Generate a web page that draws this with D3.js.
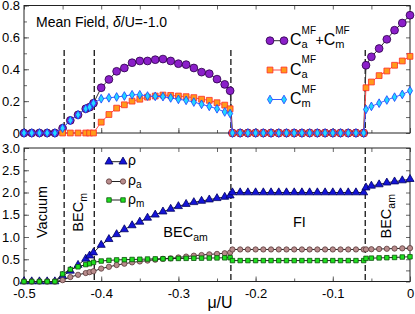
<!DOCTYPE html>
<html>
<head>
<meta charset="utf-8">
<script src="https://cdn.jsdelivr.net/npm/d3@7"></script>
<style>
body { margin: 0; background: #fff; }
svg { display: block; font-family: "Liberation Sans", Arial, sans-serif; }
</style>
</head>
<body>
<svg id="viz" width="415" height="314"></svg>
<script>
// mu/U grid (denser next to the transitions)
var mu = [-0.50, -0.49, -0.48, -0.47, -0.46, -0.45, -0.44, -0.43, -0.42, -0.415, -0.41,
    -0.40, -0.39, -0.38, -0.37, -0.36, -0.35, -0.34, -0.33, -0.32, -0.31, -0.30, -0.29, -0.28,
    -0.27, -0.26, -0.25, -0.24, -0.233,
    -0.23, -0.22, -0.21, -0.20, -0.19, -0.18, -0.17, -0.16, -0.15, -0.14, -0.13, -0.12, -0.11,
    -0.10, -0.09, -0.08, -0.07, -0.06,
    -0.057, -0.05, -0.04, -0.03, -0.02, -0.01, 0.0];

// top panel: condensate fractions
var cTot = [0, 0, 0, 0, 0, 0.03, 0.079, 0.114, 0.152, 0.162, 0.187,
    0.284, 0.336, 0.387, 0.408, 0.441, 0.452, 0.452, 0.46, 0.464, 0.452, 0.435, 0.429, 0.408,
    0.382, 0.372, 0.338, 0.305, 0.265,
    0, 0, 0, 0, 0, 0, 0, 0, 0, 0, 0, 0, 0, 0, 0, 0, 0, 0,
    0.425, 0.478, 0.53, 0.588, 0.645, 0.69, 0.739];
var cA = [null, null, null, null, null, 0, 0, 0, 0, 0, 0,
    0.068, 0.116, 0.156, 0.177, 0.2, 0.212, 0.225, 0.232, 0.238, 0.236, 0.232, 0.228, 0.222,
    0.212, 0.205, 0.19, 0.175, 0.152,
    0, 0, 0, 0, 0, 0, 0, 0, 0, 0, 0, 0, 0, 0, 0, 0, 0, 0,
    0.284, 0.32, 0.36, 0.389, 0.425, 0.452, 0.481];
var cM = [0, 0, 0, 0, 0, 0.03, 0.079, 0.114, 0.152, 0.162, 0.187,
    0.215, 0.221, 0.226, 0.232, 0.24, 0.24, 0.232, 0.23, 0.228, 0.22, 0.211, 0.205, 0.194,
    0.18, 0.167, 0.152, 0.132, 0.122,
    0, 0, 0, 0, 0, 0, 0, 0, 0, 0, 0, 0, 0, 0, 0, 0, 0, 0,
    0.148, 0.167, 0.187, 0.207, 0.225, 0.242, 0.265];

// bottom panel: densities
var rho = [0, 0, 0, 0, 0, 0.12, 0.24, 0.37, 0.51, 0.58, 0.65,
    0.82, 0.95, 1.06, 1.17, 1.26, 1.34, 1.43, 1.5, 1.57, 1.63, 1.69, 1.74, 1.78,
    1.81, 1.84, 1.87, 1.9, 1.93,
    2, 2, 2, 2, 2, 2, 2, 2, 2, 2, 2, 2, 2, 2, 2, 2, 2, 2,
    2.11, 2.15, 2.18, 2.22, 2.245, 2.27, 2.3];
var rhoA = [0, 0, 0, 0, 0, 0.03, 0.1, 0.15, 0.19, 0.21, 0.23,
    0.29, 0.33, 0.37, 0.4, 0.43, 0.45, 0.47, 0.49, 0.51, 0.52, 0.54, 0.56, 0.58,
    0.595, 0.61, 0.62, 0.635, 0.65,
    0.72, 0.72, 0.72, 0.72, 0.72, 0.72, 0.72, 0.72, 0.72, 0.72, 0.72, 0.72, 0.72, 0.72, 0.72, 0.72, 0.72, 0.72,
    0.722, 0.725, 0.73, 0.735, 0.74, 0.745, 0.75];
var rhoM = [0, 0, 0, 0, 0, 0.17, 0.27, 0.33, 0.38, 0.4, 0.43,
    0.46, 0.475, 0.485, 0.49, 0.495, 0.5, 0.505, 0.508, 0.51, 0.515, 0.518, 0.52, 0.522,
    0.525, 0.527, 0.53, 0.532, 0.535,
    0.47, 0.47, 0.47, 0.47, 0.47, 0.47, 0.47, 0.47, 0.47, 0.47, 0.47, 0.47, 0.47, 0.47, 0.47, 0.47, 0.47, 0.47,
    0.52, 0.525, 0.53, 0.535, 0.54, 0.55, 0.555];

var transitions = [-0.448, -0.409, -0.232, -0.058];
var xTicks = [-0.5, -0.4, -0.3, -0.2, -0.1, 0];
var topTicks = [0, 0.2, 0.4, 0.6, 0.8];
var botTicks = [0, 0.5, 1.0, 1.5, 2.0, 2.5, 3.0];

var svg = d3.select("#viz");

var x = d3.scaleLinear().domain([-0.5, 0]).range([24, 410]);
var yTop = d3.scaleLinear().domain([0, 0.8]).range([133, 5.5]);
var yBot = d3.scaleLinear().domain([0, 3]).range([281.5, 148]);

function fmt(d) { return d === 0 ? "0" : d.toFixed(1); }

function frame(y, yMajor, yMinor, showX) {
    var g = svg.append("g");
    var y0 = y.range()[0], y1 = y.range()[1];

    // x ticks, bottom and top, pointing inward
    g.append("g").attr("transform", "translate(0," + y0 + ")")
        .call(d3.axisBottom(x).tickValues(xTicks).tickSizeInner(-5).tickSizeOuter(0)
            .tickPadding(7).tickFormat(showX ? fmt : ""));
    g.append("g").attr("transform", "translate(0," + y0 + ")")
        .call(d3.axisBottom(x).ticks(10).tickSizeInner(-3).tickSizeOuter(0).tickFormat(""));
    g.append("g").attr("transform", "translate(0," + y1 + ")")
        .call(d3.axisTop(x).ticks(10).tickSizeInner(-4).tickSizeOuter(0).tickFormat(""));

    // y ticks
    g.append("g").attr("transform", "translate(" + x.range()[0] + ",0)")
        .call(d3.axisLeft(y).tickValues(yMajor).tickSizeInner(-5).tickSizeOuter(0)
            .tickPadding(4).tickFormat(fmt));
    g.append("g").attr("transform", "translate(" + x.range()[0] + ",0)")
        .call(d3.axisLeft(y).tickValues(yMinor).tickSizeInner(-3).tickSizeOuter(0).tickFormat(""));
    g.append("g").attr("transform", "translate(" + x.range()[1] + ",0)")
        .call(d3.axisRight(y).tickValues(yMinor).tickSizeInner(-4).tickSizeOuter(0).tickFormat(""));

    g.selectAll(".domain").remove();
    g.selectAll(".tick line").attr("stroke", "#666");
    g.selectAll(".tick text").attr("font-size", 13).attr("fill", "#000")
        .attr("font-family", "Liberation Sans, Arial, sans-serif");

    g.append("rect")
        .attr("x", x.range()[0]).attr("y", y1)
        .attr("width", x.range()[1] - x.range()[0]).attr("height", y0 - y1)
        .attr("fill", "none").attr("stroke", "#222").attr("stroke-width", 1);
    return g;
}

frame(yTop, topTicks, d3.range(0, 0.81, 0.1), false);
frame(yBot, botTicks, d3.range(0, 3.01, 0.25), true);

// phase boundaries
transitions.forEach(function (t) {
    [[50, 133], [148, 281.5]].forEach(function (r) {
        svg.append("line")
            .attr("x1", x(t)).attr("x2", x(t))
            .attr("y1", r[0]).attr("y2", r[1])
            .attr("stroke", "#000").attr("stroke-width", 1.2)
            .attr("stroke-dasharray", "6,3");
    });
});

function series(vals, y, o) {
    var pts = d3.zip(mu, vals).filter(function (d) { return d[1] != null; });
    var line = d3.line().x(function (d) { return x(d[0]); }).y(function (d) { return y(d[1]); });
    svg.append("path").datum(pts).attr("d", line)
        .attr("fill", "none").attr("stroke", o.line).attr("stroke-width", 1);
    var sym = d3.symbol().type(o.type).size(o.size);
    svg.append("g").selectAll("path").data(pts).enter().append("path")
        .attr("d", sym)
        .attr("transform", function (d) { return "translate(" + x(d[0]) + "," + y(d[1]) + ")"; })
        .attr("fill", o.fill).attr("stroke", o.stroke).attr("stroke-width", 0.8);
}

var stylePurple = { type: d3.symbolCircle, size: 48, fill: "#8b1fc9", stroke: "#2a0045", line: "#333" };
var styleOrange = { type: d3.symbolSquare, size: 34, fill: "#ff9a1a", stroke: "#ff2a2a", line: "#ff4a4a" };
var styleBlue = { type: d3.symbolDiamond, size: 22, fill: "#22d8ff", stroke: "#1a3cff", line: "#3b5bff" };
var styleRho = { type: d3.symbolTriangle, size: 28, fill: "#1414d8", stroke: "#000060", line: "#222" };
var styleRhoA = { type: d3.symbolCircle, size: 22, fill: "#b88c8c", stroke: "#5a3a3a", line: "#222" };
var styleRhoM = { type: d3.symbolSquare, size: 20, fill: "#1ee01e", stroke: "#0a500a", line: "#222" };

series(cTot, yTop, stylePurple);
series(cA, yTop, styleOrange);
series(cM, yTop, styleBlue);
series(rho, yBot, styleRho);
series(rhoA, yBot, styleRhoA);
series(rhoM, yBot, styleRhoM);

// legends
function legendMark(x0, x1, y, o) {
    svg.append("line").attr("x1", x0).attr("x2", x1).attr("y1", y).attr("y2", y)
        .attr("stroke", o.line).attr("stroke-width", 1);
    var sym = d3.symbol().type(o.type).size(o.size);
    [x0 + 2, x1 - 1].forEach(function (px) {
        svg.append("path").attr("d", sym).attr("transform", "translate(" + px + "," + y + ")")
            .attr("fill", o.fill).attr("stroke", o.stroke).attr("stroke-width", 0.8);
    });
}

// "C" with stacked super/subscript, returns end x
function cTerm(x0, y, sub) {
    var c = svg.append("text").attr("x", x0).attr("y", y + 4.5).attr("font-size", 16).text("C");
    var w = c.node().getComputedTextLength();
    var s1 = svg.append("text").attr("x", x0 + w).attr("y", y - 7).attr("font-size", 10).text("MF");
    svg.append("text").attr("x", x0 + w).attr("y", y + 7.5).attr("font-size", 11).text(sub);
    return x0 + w + s1.node().getComputedTextLength();
}

var legTop = [[40.7, stylePurple], [70, styleOrange], [99.5, styleBlue]];
legTop.forEach(function (r) { legendMark(268, 285, r[0], r[1]); });
var ex = cTerm(290, 40.7, "a");
var plus = svg.append("text").attr("x", ex - 0.5).attr("y", 45.2).attr("font-size", 14).text("+");
cTerm(ex - 0.5 + plus.node().getComputedTextLength(), 40.7, "m");
cTerm(290, 70, "a");
cTerm(290, 99.5, "m");

var legBot = [[161.7, styleRho, ""], [181.5, styleRhoA, "a"], [200, styleRhoM, "m"]];
legBot.forEach(function (r) {
    legendMark(107, 124, r[0], r[1]);
    var t = svg.append("text").attr("x", 128).attr("y", r[0] + 3.7).attr("font-size", 14).text("\u03c1");
    if (r[2]) t.append("tspan").attr("font-size", 10).attr("dy", 3).text(r[2]);
});

// title
svg.append("text").attr("x", 36).attr("y", 27).attr("font-size", 14)
    .html("Mean Field, <tspan font-style='italic'>\u03b4</tspan>/U=-1.0");

// phase labels
function phase(txt, sub, px, py, rot) {
    var t = svg.append("text").attr("font-size", 14.5)
        .attr("transform", "translate(" + px + "," + py + ")" + (rot ? " rotate(-90)" : ""))
        .text(txt);
    if (sub) t.append("tspan").attr("font-size", 10.5).attr("dy", 4).text(sub);
}
phase("Vacuum", "", 47, 238, true);
phase("BEC", "m", 83.3, 231.7, true);
phase("BEC", "am", 163.3, 237, false);
phase("FI", "", 293, 227, false);
phase("BEC", "am", 390.5, 238.5, true);

svg.append("text").attr("x", 220).attr("y", 308).attr("font-size", 16)
    .attr("text-anchor", "middle").text("\u03bc/U");
</script>
</body>
</html>
